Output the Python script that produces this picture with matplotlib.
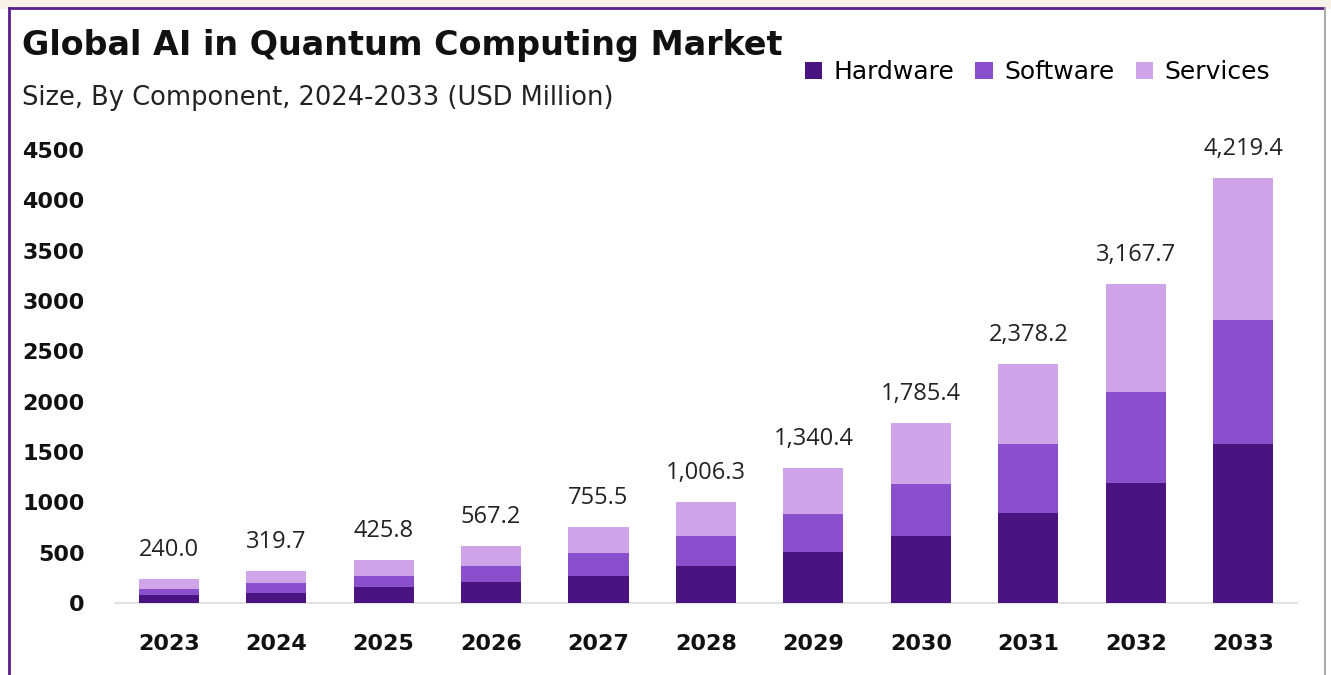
import matplotlib.pyplot as plt
from matplotlib.patches import Rectangle
from matplotlib.lines import Line2D
import numpy as np

# ------------------------------
# Data (USD Million)
# ------------------------------
years = ["2023", "2024", "2025", "2026", "2027", "2028", "2029", "2030", "2031", "2032", "2033"]
hardware = [80, 99, 156, 205, 271, 370, 505, 667, 890, 1190, 1578]
software = [59, 100, 115, 165, 226, 297, 377, 519, 689, 910, 1230]
services = [101, 121, 155, 197, 259, 339, 458, 599, 799, 1068, 1411]
totals = [240.0, 319.7, 425.8, 567.2, 755.5, 1006.3, 1340.4, 1785.4, 2378.2, 3167.7, 4219.4]

c_hw = "#4a1480"
c_sw = "#8a4fcc"
c_sv = "#cfa4e9"

plt.rcParams["font.family"] = ["DejaVu Sans"]

fig = plt.figure(figsize=(13.31, 6.75), dpi=100)
ax = fig.add_axes([0.0864, 0.1067, 0.888, 0.671])

x = np.arange(len(years))
w = 0.56
hw = np.array(hardware)
sw = np.array(software)
sv = np.array(services)

ax.bar(x, hw, w, color=c_hw, label="Hardware", zorder=3)
ax.bar(x, sw, w, bottom=hw, color=c_sw, label="Software", zorder=3)
ax.bar(x, sv, w, bottom=hw + sw, color=c_sv, label="Services", zorder=3)

# total labels above the bars
for xi, top, t in zip(x, hw + sw + sv, totals):
    ax.text(xi, top + 170, f"{t:,.1f}", ha="center", va="bottom", family="Open Sans",
            fontsize=17, color="#222222", clip_on=False)

ax.set_xlim(-0.5, 10.5)
ax.set_ylim(0, 4500)
ax.set_yticks(np.arange(0, 4501, 500))
ax.set_yticklabels([str(v) for v in range(0, 4501, 500)], fontsize=16, fontweight="bold")
ax.set_xticks(x)
ax.set_xticklabels(years, fontsize=16, fontweight="bold")
ax.tick_params(axis="both", length=0, colors="#111111")
ax.tick_params(axis="y", pad=22)
ax.tick_params(axis="x", pad=22)

for s in ["top", "right", "left"]:
    ax.spines[s].set_visible(False)
ax.spines["bottom"].set_color("#dddddd")
ax.spines["bottom"].set_linewidth(1.2)

# titles
fig.text(0.0165, 0.932, "Global AI in Quantum Computing Market", fontsize=24,
         fontweight="bold", va="center", ha="left", color="#111111")
fig.text(0.0165, 0.855, "Size, By Component, 2024-2033 (USD Million)", fontsize=18.5,
         va="center", ha="left", color="#222222")

fig.legend(loc="center left", bbox_to_anchor=(0.597, 0.893), ncol=3, frameon=False,
           fontsize=18, handlelength=0.7, handleheight=0.7, handletextpad=0.45,
           columnspacing=0.85, borderaxespad=0)

# frame around the chart
fig.patches.append(Rectangle((0, 0.988), 1, 0.012, transform=fig.transFigure,
                             color="#f6f2ea", zorder=0))
fig.lines.append(Line2D([0.0065, 0.995], [0.988, 0.988], transform=fig.transFigure,
                        color="#5b1e8c", linewidth=2))
fig.lines.append(Line2D([0.0065, 0.0065], [0, 0.988], transform=fig.transFigure,
                        color="#5b1e8c", linewidth=2))
fig.lines.append(Line2D([0.9955, 0.9955], [0, 0.988], transform=fig.transFigure,
                        color="#aaaaaa", linewidth=1.5))

fig.savefig("out.png", dpi=100)
